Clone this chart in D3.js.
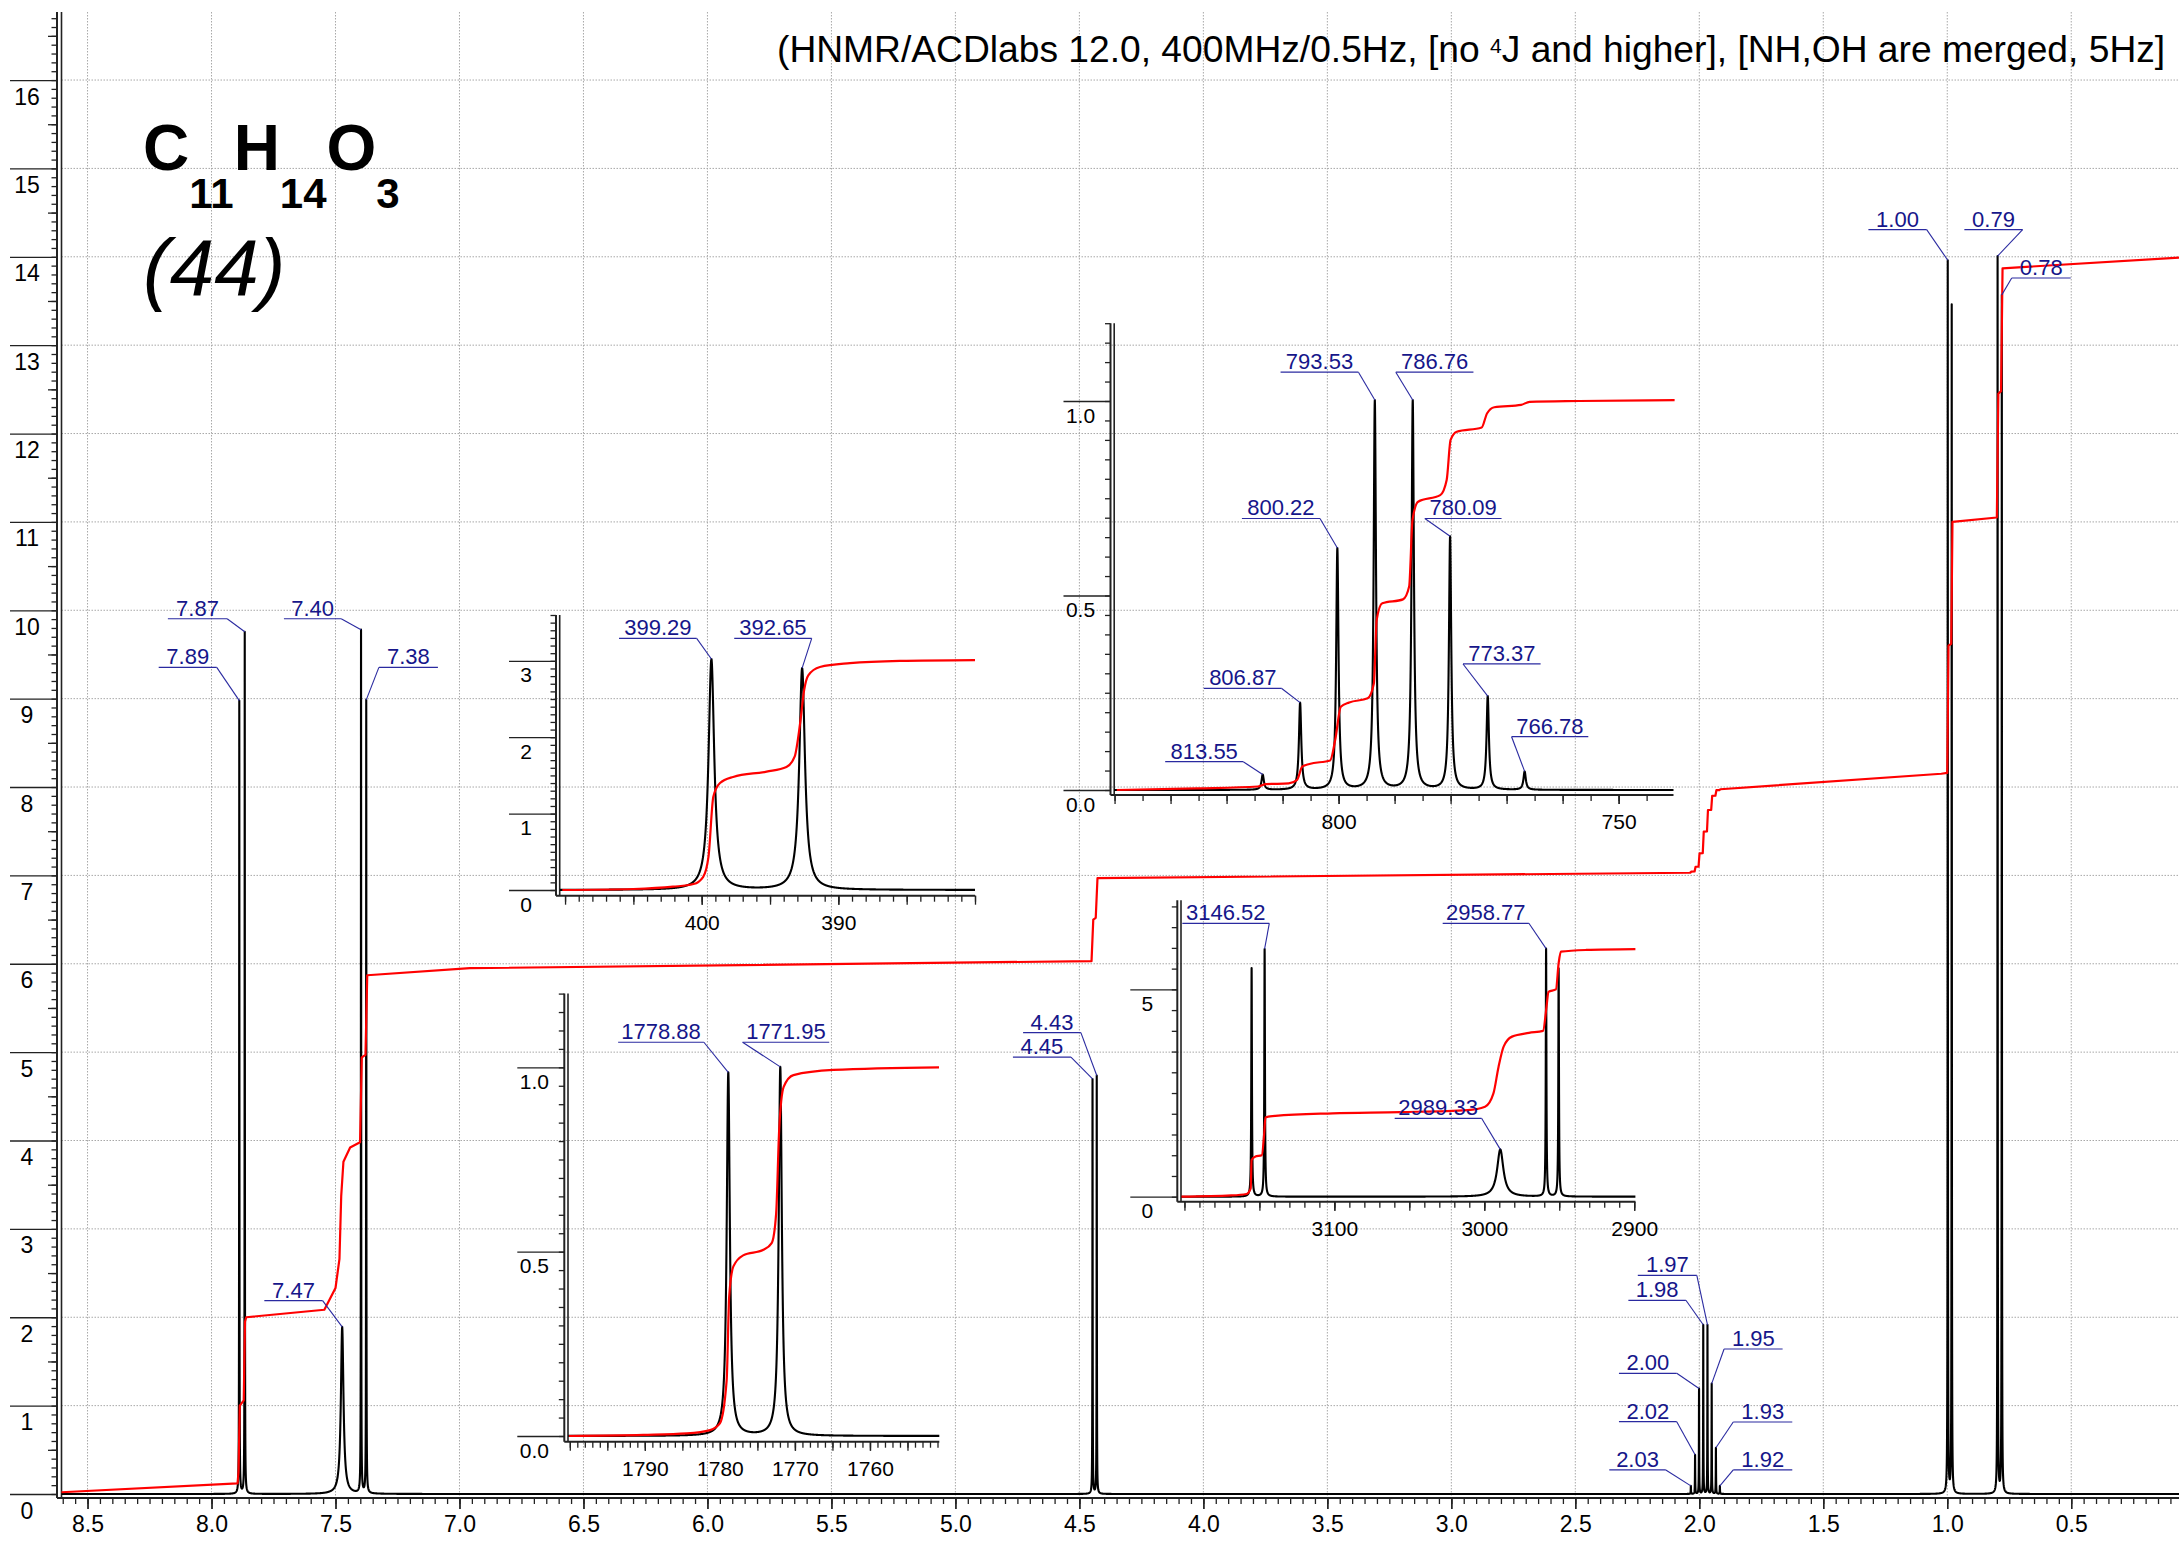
<!DOCTYPE html>
<html>
<head>
<meta charset="utf-8">
<title>C11H14O3 1H NMR</title>
<script src="https://cdn.jsdelivr.net/npm/d3@7/dist/d3.min.js"></script>
<style>
html,body{margin:0;padding:0;background:#fff;}
svg{display:block;}
</style>
</head>
<body>
<svg id="chart" width="2179" height="1543" xmlns="http://www.w3.org/2000/svg"></svg>
<script>
// ================= DATA =================
const titleParts = ["(HNMR/ACDlabs 12.0, 400MHz/0.5Hz, [no ", "4", "J and higher], [NH,OH are merged, 5Hz]"];
const formulaParts = [["C", "11"], ["H", "14"], ["O", "3"]];
const compoundId = "(44)";
const spectrometerMHz = 400;

// main spectrum (ppm)
const mainPeakPpm    = [7.888, 7.866, 7.473, 7.397, 7.376, 4.447, 4.430, 2.034, 2.017, 2.001, 1.984, 1.967, 1.950, 1.933, 1.917, 0.998, 0.982, 0.797, 0.780];
const mainPeakHeight = [8.97, 9.75, 1.89, 9.76, 8.97, 4.69, 4.73, 0.09, 0.44, 1.19, 1.91, 1.91, 1.245, 0.52, 0.09, 13.94, 13.44, 13.99, 13.55];
const mainPeakFwhmHz = [0.5, 0.5, 5, 0.5, 0.5, 0.5, 0.5, 0.5, 0.5, 0.5, 0.5, 0.5, 0.5, 0.5, 0.5, 0.5, 0.5, 0.5, 0.5];
const mainXTicks = [8.5, 8.0, 7.5, 7.0, 6.5, 6.0, 5.5, 5.0, 4.5, 4.0, 3.5, 3.0, 2.5, 2.0, 1.5, 1.0, 0.5];
const mainYTicks = [0, 1, 2, 3, 4, 5, 6, 7, 8, 9, 10, 11, 12, 13, 14, 15, 16];
const mainLabelText = ["7.89", "7.87", "7.47", "7.40", "7.38", "4.45", "4.43", "2.03", "2.02", "2.00", "1.98", "1.97", "1.95", "1.93", "1.92", "1.00", "0.79", "0.78"];
const mainLabelPeak = [7.888, 7.866, 7.473, 7.397, 7.376, 4.447, 4.430, 2.034, 2.017, 2.001, 1.984, 1.967, 1.950, 1.933, 1.917, 0.998, 0.797, 0.780];
const mainIntegral = [
  [8.605, 0.02], [7.895, 0.12], [7.891, 0.25], [7.886, 1.0], [7.870, 1.06], [7.865, 1.95], [7.860, 2.0],
  [7.545, 2.085], [7.50, 2.33], [7.484, 2.66], [7.477, 3.37], [7.468, 3.76], [7.441, 3.92], [7.401, 3.98],
  [7.394, 4.94], [7.379, 4.97], [7.372, 5.87], [6.958, 5.95], [4.451, 6.03], [4.444, 6.50], [4.434, 6.52],
  [4.427, 6.97], [2.040, 7.03], [2.036, 7.032], [2.032, 7.042], [2.019, 7.044], [2.015, 7.098], [2.003, 7.10],
  [1.999, 7.25], [1.986, 7.252], [1.982, 7.495], [1.969, 7.497], [1.965, 7.74], [1.952, 7.742], [1.948, 7.90],
  [1.935, 7.902], [1.931, 7.964], [1.919, 7.965], [1.915, 7.975], [1.024, 8.15], [1.000, 8.16], [0.995, 9.60],
  [0.984, 9.62], [0.979, 11.0], [0.800, 11.05], [0.794, 12.45], [0.783, 12.48], [0.777, 13.87], [0.065, 13.99]
];

// inset 1 (Hz)
const inset1PeakHz = [399.29, 392.65];
const inset1PeakHeight = [3.02, 2.90];
const inset1PeakFwhmHz = [0.5, 0.5];
const inset1Labels = ["399.29", "392.65"];
const inset1XTicks = [400, 390];
const inset1YTicks = [0, 1, 2, 3];
const inset1Integral = [
  [410.2, 0.0], [405.0, 0.013], [402.1, 0.043], [400.6, 0.078], [399.9, 0.17], [399.5, 0.44], [399.15, 1.22],
  [398.66, 1.40], [397.7, 1.48], [395.25, 1.55], [393.8, 1.61], [393.2, 1.745], [392.8, 2.18], [392.5, 2.62],
  [392.2, 2.81], [391.35, 2.92], [389.15, 2.97], [385.5, 3.0], [380.0, 3.01]
];

// inset 2 (Hz)
const inset2PeakHz = [1778.88, 1771.95];
const inset2PeakHeight = [0.985, 1.0];
const inset2PeakFwhmHz = [0.5, 0.5];
const inset2Labels = ["1778.88", "1771.95"];
const inset2XTicks = [1790, 1780, 1770, 1760];
const inset2YTicks = [0, 0.5, 1.0];
const inset2Integral = [
  [1800.1, 0.0], [1790.2, 0.003], [1784.4, 0.007], [1781.3, 0.016], [1780.0, 0.034], [1779.1, 0.15],
  [1778.76, 0.378], [1778.2, 0.46], [1776.9, 0.49], [1774.2, 0.505], [1773.1, 0.523], [1772.5, 0.604],
  [1772.1, 0.83], [1771.5, 0.947], [1770.2, 0.979], [1764.9, 0.993], [1750.8, 1.0]
];

// inset 3 (Hz)
const inset3PeakHz = [813.55, 806.87, 800.22, 793.53, 786.76, 780.09, 773.37, 766.78];
const inset3PeakHeight = [0.039, 0.223, 0.62, 1.0, 1.0, 0.65, 0.24, 0.047];
const inset3PeakFwhmHz = [0.5, 0.5, 0.5, 0.5, 0.5, 0.5, 0.5, 0.5];
const inset3Labels = ["813.55", "806.87", "800.22", "793.53", "786.76", "780.09", "773.37", "766.78"];
const inset3XTicks = [800, 750];
const inset3YTicks = [0, 0.5, 1.0];
const inset3Integral = [
  [839.6, 0.0], [825.2, 0.004], [814.4, 0.009], [812.95, 0.015], [808.9, 0.017], [807.4, 0.026], [806.5, 0.06],
  [805.2, 0.067], [801.5, 0.076], [800.6, 0.129], [799.6, 0.214], [798.1, 0.225], [794.8, 0.236], [793.7, 0.274],
  [793.2, 0.437], [792.2, 0.480], [788.5, 0.490], [787.4, 0.523], [786.8, 0.694], [785.8, 0.741], [781.85, 0.758],
  [780.7, 0.797], [780.0, 0.900], [778.9, 0.921], [774.45, 0.932], [773.5, 0.968], [772.2, 0.984], [767.4, 0.990],
  [765.9, 0.998], [757.0, 1.0], [740.0, 1.002]
];

// inset 4 (Hz)
const inset4PeakHz = [3155.2, 3146.52, 2989.33, 2958.77, 2950.4];
const inset4PeakHeight = [5.51, 5.97, 1.14, 5.97, 5.5];
const inset4PeakFwhmHz = [0.5, 0.5, 5, 0.5, 0.5];
const inset4Labels = ["3146.52", "2989.33", "2958.77"];
const inset4LabelPeak = [3146.52, 2989.33, 2958.77];
const inset4XTicks = [3100, 3000, 2900];
const inset4YTicks = [0, 5];
const inset4Integral = [
  [3202.0, 0.0], [3168.7, 0.03], [3158.6, 0.065], [3155.8, 0.2], [3155.2, 0.885], [3152.9, 0.965], [3148.4, 1.0],
  [3146.8, 1.53], [3146.0, 1.91], [3139.4, 1.95], [3101.1, 2.01], [3056, 2.04], [3011, 2.09], [2999.5, 2.17],
  [2993.9, 2.49], [2990.5, 3.13], [2987.1, 3.62], [2981.5, 3.86], [2970.2, 3.95], [2960.8, 4.0], [2958.5, 4.58],
  [2957.2, 4.94], [2952.2, 5.0], [2950.4, 5.63], [2948.9, 5.91], [2932, 5.95], [2899.2, 5.97]
];

// ================= LAYOUT (label boxes in data units: from, to, level, side) =================
const mainLabelBox = [
  [8.213, 7.979, 9.354, "r"], [8.176, 7.937, 9.904, "r"], [7.787, 7.552, 2.189, "r"], [7.708, 7.477, 9.904, "r"],
  [7.325, 7.087, 9.354, "l"], [4.768, 4.534, 4.943, "r"], [4.727, 4.494, 5.221, "r"], [2.363, 2.135, 0.272, "r"],
  [2.324, 2.091, 0.818, "r"], [2.324, 2.091, 1.366, "r"], [2.286, 2.054, 2.192, "r"], [2.248, 2.010, 2.475, "r"],
  [1.900, 1.664, 1.641, "l"], [1.863, 1.625, 0.815, "l"], [1.863, 1.625, 0.272, "l"], [1.318, 1.083, 14.307, "r"],
  [0.931, 0.696, 14.307, "r"], [0.740, 0.502, 13.760, "l"]
];
const inset1LabelBox = [[406.05, 400.37, 3.294, "r"], [397.62, 391.95, 3.294, "r"]];
const inset2LabelBox = [[1793.56, 1782.13, 1.068, "r"], [1776.97, 1765.43, 1.068, "l"]];
const inset3LabelBox = [
  [830.96, 817.02, 0.0728, "r"], [824.06, 810.15, 0.261, "r"], [817.26, 803.32, 0.698, "r"], [810.36, 796.45, 1.074, "r"],
  [789.78, 775.92, 1.074, "l"], [784.6, 770.9, 0.698, "l"], [777.78, 763.93, 0.324, "l"], [769.11, 755.41, 0.137, "l"]
];
const inset4LabelBox = [[3201.4, 3143.4, 6.593, "r"], [3059.77, 3001.8, 1.891, "r"], [3027.75, 2970.25, 6.593, "r"]];

// ================= DRAWING =================
const FONT = '"Liberation Sans", Arial, Helvetica, sans-serif';
const LABEL_COLOR = "#16168a";
const LEADER_COLOR = "#2a2aa0";
const AXIS_COLOR = "#222";
const svg = d3.select("#chart");

function spectrumFn(centers, heights, gammas) {
  return v => {
    let s = 0;
    for (let j = 0; j < centers.length; j++) {
      const d = v - centers[j], g = gammas[j];
      s += heights[j] * g * g / (d * d + g * g);
    }
    return s;
  };
}
function samplePoints(centers, gammas, lo, hi, n, f) {
  const xs = [];
  for (let i = 0; i <= n; i++) xs.push(lo + (hi - lo) * i / n);
  centers.forEach((c, j) => {
    const g = gammas[j];
    for (let k = -80; k <= 80; k++) xs.push(c + k * g * 0.125);
    for (let m = 0; m < 45; m++) { const o = g * 10 * Math.pow(1.15, m); xs.push(c + o, c - o); }
  });
  return xs.filter(v => v >= lo && v <= hi).sort((a, b) => a - b).map(v => [v, f(v)]);
}

function drawAxes(o) {
  const g = svg.append("g");
  const rx1 = o.x.range()[1];
  const yTopPx = o.y(o.yTop);
  const inX = v => { const p = o.x(v); return p >= o.axisX - 0.5 && p <= rx1 + 0.5; };

  g.append("g").attr("transform", `translate(${o.axisX},0)`)
    .call(d3.axisLeft(o.y).tickValues(o.yMinor).tickSize(o.yMinorLen).tickFormat(""));
  if (o.yMid) {
    g.append("g").attr("transform", `translate(${o.axisX},0)`)
      .call(d3.axisLeft(o.y).tickValues(o.yMid).tickSize(o.yMidLen).tickFormat(""));
  }
  const ym = g.append("g").attr("transform", `translate(${o.axisX},0)`)
    .call(d3.axisLeft(o.y).tickValues(o.yMajor).tickSize(47).tickFormat(o.yFmt));
  ym.selectAll("text").attr("x", -30).attr("dy", null).attr("y", o.yLabelDy)
    .attr("text-anchor", "middle");
  g.append("g").attr("transform", `translate(0,${o.axisY})`)
    .call(d3.axisBottom(o.x).tickValues(o.xMinor.filter(inX)).tickSize(6).tickFormat(""));
  g.append("g").attr("transform", `translate(0,${o.axisY})`)
    .call(d3.axisBottom(o.x).tickValues(o.xMajor.filter(inX)).tickSize(o.xMajorLen).tickFormat(""));
  const xl = g.append("g").attr("transform", `translate(0,${o.axisY})`)
    .call(d3.axisBottom(o.x).tickValues(o.xLabels).tickSize(o.xMajorLen).tickFormat(o.xFmt));
  xl.selectAll("text").attr("y", o.xLabelDy).attr("dy", null);

  g.selectAll(".domain").remove();
  g.selectAll(".tick line").attr("stroke", AXIS_COLOR).attr("stroke-width", 1.3);
  g.selectAll("g").attr("font-family", null).attr("font-size", null);
  g.selectAll("text").attr("font-family", FONT).attr("font-size", o.fontSize).attr("fill", "#000");

  g.append("line").attr("x1", o.axisX).attr("x2", o.axisX).attr("y1", yTopPx).attr("y2", o.axisY)
    .attr("stroke", AXIS_COLOR).attr("stroke-width", 2);
  g.append("line").attr("x1", o.frameX).attr("x2", o.frameX).attr("y1", yTopPx).attr("y2", o.axisY)
    .attr("stroke", AXIS_COLOR).attr("stroke-width", 1.6);
  g.append("line").attr("x1", o.axisX).attr("x2", rx1).attr("y1", o.axisY).attr("y2", o.axisY)
    .attr("stroke", AXIS_COLOR).attr("stroke-width", 2);
  return g;
}

function drawSpectrum(x, y, pts, integral, curve) {
  const g = svg.append("g");
  g.append("path").datum(pts)
    .attr("d", d3.line().x(d => x(d[0])).y(d => y(d[1])))
    .attr("fill", "none").attr("stroke", "#000").attr("stroke-width", 2.1).attr("stroke-linejoin", "round");
  g.append("path").datum(integral)
    .attr("d", d3.line().curve(curve).x(d => x(d[0])).y(d => y(d[1])))
    .attr("fill", "none").attr("stroke", "#ff0000").attr("stroke-width", 2.2).attr("stroke-linejoin", "round");
}

function drawPeakLabels(x, y, texts, peaks, f, boxes) {
  const g = svg.append("g");
  texts.forEach((t, i) => {
    const [a, b, lv, side] = boxes[i];
    const x0 = x(a), x1 = x(b), py = y(lv);
    const cx = side === "r" ? x1 : x0;
    const tx = x(peaks[i]), ty = y(f(peaks[i]));
    g.append("line").attr("x1", x0).attr("x2", x1).attr("y1", py).attr("y2", py)
      .attr("stroke", LEADER_COLOR).attr("stroke-width", 1.2);
    g.append("line").attr("x1", cx).attr("y1", py).attr("x2", tx).attr("y2", ty)
      .attr("stroke", LEADER_COLOR).attr("stroke-width", 1.1);
    g.append("text").attr("x", (x0 + x1) / 2).attr("y", py - 3).attr("text-anchor", "middle")
      .attr("font-family", FONT).attr("font-size", 22).attr("fill", LABEL_COLOR).text(t);
  });
}

// ---------- main plot ----------
const xMain = d3.scaleLinear().domain([8.605, 0.0654]).range([61.5, 2179]);
const yMain = d3.scaleLinear().domain([0, 16.77]).range([1494, 12]);

const grid = svg.append("g").attr("stroke", "#a8a8a8").attr("stroke-width", 1).attr("stroke-dasharray", "1.5,1.5");
mainXTicks.forEach(v => grid.append("line").attr("x1", xMain(v)).attr("x2", xMain(v)).attr("y1", yMain(16.77)).attr("y2", 1498));
mainYTicks.filter(v => v > 0).forEach(v => grid.append("line").attr("x1", 61.5).attr("x2", 2179).attr("y1", yMain(v)).attr("y2", yMain(v)));

drawAxes({
  x: xMain, y: yMain, axisX: 57, frameX: 61.5, axisY: 1498, yTop: 16.77,
  yMinor: d3.range(0, 16.77, 0.1), yMinorLen: 5.5, yMid: d3.range(0.5, 16.77, 1), yMidLen: 9,
  yMajor: mainYTicks, yFmt: d3.format("d"), yLabelDy: 24,
  xMinor: d3.range(0.1, 8.62, 0.05), xMajor: mainXTicks, xMajorLen: 11, xLabels: mainXTicks, xFmt: d3.format(".1f"),
  xLabelDy: 34, fontSize: 23
});

const mainGamma = mainPeakFwhmHz.map(w => w / 2 / spectrometerMHz);
const fMain = spectrumFn(mainPeakPpm, mainPeakHeight, mainGamma);
drawSpectrum(xMain, yMain, samplePoints(mainPeakPpm, mainGamma, 0.0654, 8.605, 7000, fMain), mainIntegral, d3.curveLinear);
drawPeakLabels(xMain, yMain, mainLabelText, mainLabelPeak, fMain, mainLabelBox);

// ---------- insets ----------
const insets = [
  { peaks: inset1PeakHz, h: inset1PeakHeight, w: inset1PeakFwhmHz, labels: inset1Labels, labelPeaks: inset1PeakHz, boxes: inset1LabelBox,
    integ: inset1Integral, xt: inset1XTicks, yt: inset1YTicks,
    x: d3.scaleLinear().domain([410.37, 380.0]).range([560, 975]), y: d3.scaleLinear().domain([0, 3.6]).range([890, 615]),
    axisX: 556, axisY: 895.7, yTop: 3.6, yMinorStep: 0.1, xMinorStep: 1, xMajorStep: 5, yFmt: d3.format("d"), xFmt: d3.format("d") },
  { peaks: inset2PeakHz, h: inset2PeakHeight, w: inset2PeakFwhmHz, labels: inset2Labels, labelPeaks: inset2PeakHz, boxes: inset2LabelBox,
    integ: inset2Integral, xt: inset2XTicks, yt: inset2YTicks,
    x: d3.scaleLinear().domain([1800.2, 1750.76]).range([568.3, 939.3]), y: d3.scaleLinear().domain([0, 1.2]).range([1436, 993.6]),
    axisX: 564.3, axisY: 1441.7, yTop: 1.2, yMinorStep: 0.05, xMinorStep: 1, xMajorStep: 5, yFmt: d3.format(".1f"), xFmt: d3.format("d") },
  { peaks: inset3PeakHz, h: inset3PeakHeight, w: inset3PeakFwhmHz, labels: inset3Labels, labelPeaks: inset3PeakHz, boxes: inset3LabelBox,
    integ: inset3Integral, xt: inset3XTicks, yt: inset3YTicks,
    x: d3.scaleLinear().domain([840.1, 740.2]).range([1114, 1673.5]), y: d3.scaleLinear().domain([0, 1.2]).range([790, 323.2]),
    axisX: 1110.5, axisY: 795, yTop: 1.2, yMinorStep: 0.05, xMinorStep: 5, xMajorStep: 10, yFmt: d3.format(".1f"), xFmt: d3.format("d") },
  { peaks: inset4PeakHz, h: inset4PeakHeight, w: inset4PeakFwhmHz, labels: inset4Labels, labelPeaks: inset4LabelPeak, boxes: inset4LabelBox,
    integ: inset4Integral, xt: inset4XTicks, yt: inset4YTicks,
    x: d3.scaleLinear().domain([3202.3, 2899.2]).range([1181, 1635.4]), y: d3.scaleLinear().domain([0, 7.15]).range([1196.7, 900.2]),
    axisX: 1177.3, axisY: 1201.7, yTop: 7.15, yMinorStep: 0.5, xMinorStep: 10, xMajorStep: 50, yFmt: d3.format("d"), xFmt: d3.format("d") }
];

insets.forEach(s => {
  const [d0, d1] = s.x.domain();
  const lo = Math.min(d0, d1), hi = Math.max(d0, d1);
  drawAxes({
    x: s.x, y: s.y, axisX: s.axisX, frameX: s.axisX + 3.7, axisY: s.axisY, yTop: s.yTop,
    yMinor: d3.range(0, s.yTop + 1e-9, s.yMinorStep), yMinorLen: 5.5,
    yMajor: s.yt, yFmt: s.yFmt, yLabelDy: 21,
    xMinor: d3.range(Math.ceil(lo / s.xMinorStep) * s.xMinorStep, hi + 1e-9, s.xMinorStep),
    xMajor: d3.range(Math.ceil(lo / s.xMajorStep) * s.xMajorStep, hi + 1e-9, s.xMajorStep),
    xMajorLen: 9, xLabels: s.xt, xFmt: s.xFmt, xLabelDy: 34, fontSize: 21
  });
  const gam = s.w.map(w => w / 2);
  const f = spectrumFn(s.peaks, s.h, gam);
  drawSpectrum(s.x, s.y, samplePoints(s.peaks, gam, lo, hi, 4000, f), s.integ, d3.curveMonotoneX);
  drawPeakLabels(s.x, s.y, s.labels, s.labelPeaks, f, s.boxes);
});

// ---------- title, formula, id ----------
const title = svg.append("text").attr("x", 777).attr("y", 62).attr("font-family", FONT).attr("font-size", 37.2).attr("fill", "#000");
title.append("tspan").text(titleParts[0]);
title.append("tspan").attr("font-size", 21).attr("dy", -9).text(titleParts[1]);
title.append("tspan").attr("dy", 9).text(titleParts[2]);

const formula = svg.append("text").attr("x", 143).attr("y", 170).attr("font-family", FONT).attr("font-weight", "bold").attr("fill", "#000");
formulaParts.forEach((p, i) => {
  formula.append("tspan").attr("font-size", 64).attr("dy", i === 0 ? 0 : -38).text(p[0]);
  formula.append("tspan").attr("font-size", 42).attr("dy", 38).text(p[1]);
});
svg.append("text").attr("x", 143).attr("y", 295).attr("font-family", FONT).attr("font-style", "italic")
  .attr("font-size", 80).attr("fill", "#000").text(compoundId);
</script>
</body>
</html>
